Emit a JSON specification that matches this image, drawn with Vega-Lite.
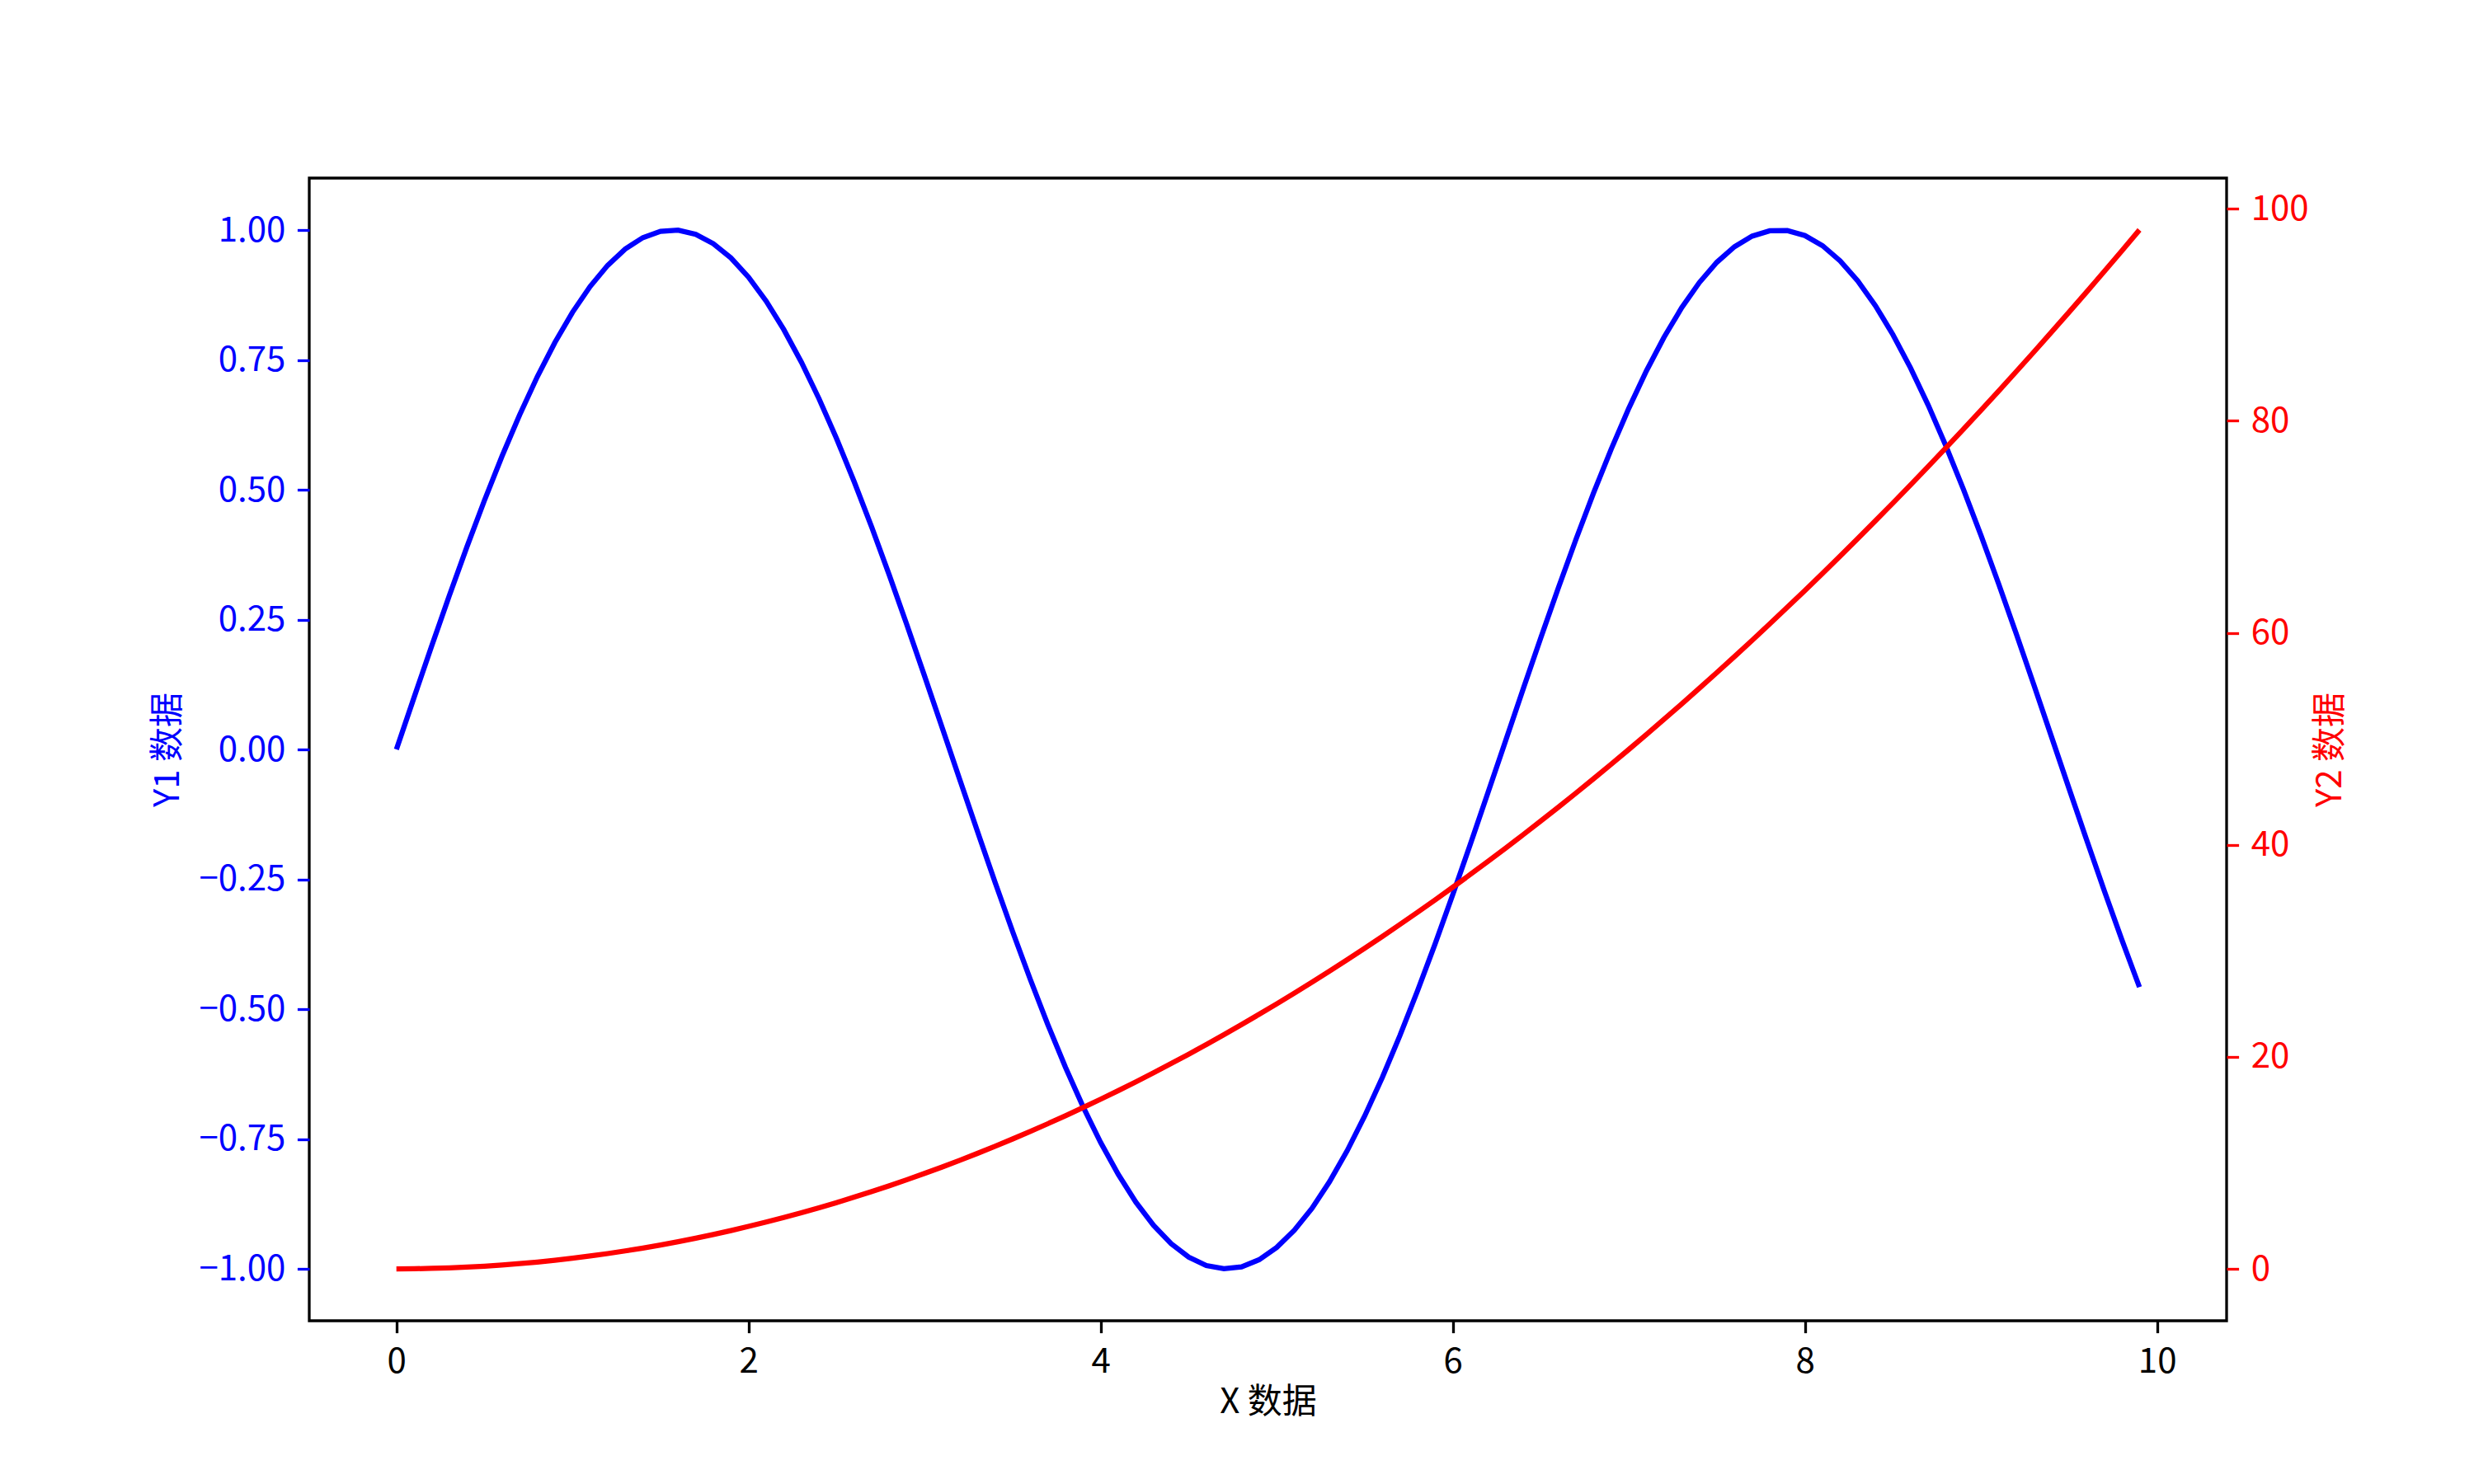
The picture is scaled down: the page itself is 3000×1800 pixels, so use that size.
{
  "$schema": "https://vega.github.io/schema/vega-lite/v6.json",
  "autosize": {"type": "none"},
  "padding": {"left": 375, "top": 216, "right": 300, "bottom": 198},
  "width": 2325,
  "height": 1386,
  "background": "white",
  "data": {"values": [
    {"x": 0.0, "y1": 0.0, "y2": 0.0},
    {"x": 0.1, "y1": 0.0998, "y2": 0.01},
    {"x": 0.2, "y1": 0.1987, "y2": 0.04},
    {"x": 0.3, "y1": 0.2955, "y2": 0.09},
    {"x": 0.4, "y1": 0.3894, "y2": 0.16},
    {"x": 0.5, "y1": 0.4794, "y2": 0.25},
    {"x": 0.6, "y1": 0.5646, "y2": 0.36},
    {"x": 0.7, "y1": 0.6442, "y2": 0.49},
    {"x": 0.8, "y1": 0.7174, "y2": 0.64},
    {"x": 0.9, "y1": 0.7833, "y2": 0.81},
    {"x": 1.0, "y1": 0.8415, "y2": 1.0},
    {"x": 1.1, "y1": 0.8912, "y2": 1.21},
    {"x": 1.2, "y1": 0.932, "y2": 1.44},
    {"x": 1.3, "y1": 0.9636, "y2": 1.69},
    {"x": 1.4, "y1": 0.9854, "y2": 1.96},
    {"x": 1.5, "y1": 0.9975, "y2": 2.25},
    {"x": 1.6, "y1": 0.9996, "y2": 2.56},
    {"x": 1.7, "y1": 0.9917, "y2": 2.89},
    {"x": 1.8, "y1": 0.9738, "y2": 3.24},
    {"x": 1.9, "y1": 0.9463, "y2": 3.61},
    {"x": 2.0, "y1": 0.9093, "y2": 4.0},
    {"x": 2.1, "y1": 0.8632, "y2": 4.41},
    {"x": 2.2, "y1": 0.8085, "y2": 4.84},
    {"x": 2.3, "y1": 0.7457, "y2": 5.29},
    {"x": 2.4, "y1": 0.6755, "y2": 5.76},
    {"x": 2.5, "y1": 0.5985, "y2": 6.25},
    {"x": 2.6, "y1": 0.5155, "y2": 6.76},
    {"x": 2.7, "y1": 0.4274, "y2": 7.29},
    {"x": 2.8, "y1": 0.335, "y2": 7.84},
    {"x": 2.9, "y1": 0.2392, "y2": 8.41},
    {"x": 3.0, "y1": 0.1411, "y2": 9.0},
    {"x": 3.1, "y1": 0.0416, "y2": 9.61},
    {"x": 3.2, "y1": -0.0584, "y2": 10.24},
    {"x": 3.3, "y1": -0.1577, "y2": 10.89},
    {"x": 3.4, "y1": -0.2555, "y2": 11.56},
    {"x": 3.5, "y1": -0.3508, "y2": 12.25},
    {"x": 3.6, "y1": -0.4425, "y2": 12.96},
    {"x": 3.7, "y1": -0.5298, "y2": 13.69},
    {"x": 3.8, "y1": -0.6119, "y2": 14.44},
    {"x": 3.9, "y1": -0.6878, "y2": 15.21},
    {"x": 4.0, "y1": -0.7568, "y2": 16.0},
    {"x": 4.1, "y1": -0.8183, "y2": 16.81},
    {"x": 4.2, "y1": -0.8716, "y2": 17.64},
    {"x": 4.3, "y1": -0.9162, "y2": 18.49},
    {"x": 4.4, "y1": -0.9516, "y2": 19.36},
    {"x": 4.5, "y1": -0.9775, "y2": 20.25},
    {"x": 4.6, "y1": -0.9937, "y2": 21.16},
    {"x": 4.7, "y1": -0.9999, "y2": 22.09},
    {"x": 4.8, "y1": -0.9962, "y2": 23.04},
    {"x": 4.9, "y1": -0.9825, "y2": 24.01},
    {"x": 5.0, "y1": -0.9589, "y2": 25.0},
    {"x": 5.1, "y1": -0.9258, "y2": 26.01},
    {"x": 5.2, "y1": -0.8835, "y2": 27.04},
    {"x": 5.3, "y1": -0.8323, "y2": 28.09},
    {"x": 5.4, "y1": -0.7728, "y2": 29.16},
    {"x": 5.5, "y1": -0.7055, "y2": 30.25},
    {"x": 5.6, "y1": -0.6313, "y2": 31.36},
    {"x": 5.7, "y1": -0.5507, "y2": 32.49},
    {"x": 5.8, "y1": -0.4646, "y2": 33.64},
    {"x": 5.9, "y1": -0.3739, "y2": 34.81},
    {"x": 6.0, "y1": -0.2794, "y2": 36.0},
    {"x": 6.1, "y1": -0.1822, "y2": 37.21},
    {"x": 6.2, "y1": -0.0831, "y2": 38.44},
    {"x": 6.3, "y1": 0.0168, "y2": 39.69},
    {"x": 6.4, "y1": 0.1165, "y2": 40.96},
    {"x": 6.5, "y1": 0.2151, "y2": 42.25},
    {"x": 6.6, "y1": 0.3115, "y2": 43.56},
    {"x": 6.7, "y1": 0.4048, "y2": 44.89},
    {"x": 6.8, "y1": 0.4941, "y2": 46.24},
    {"x": 6.9, "y1": 0.5784, "y2": 47.61},
    {"x": 7.0, "y1": 0.657, "y2": 49.0},
    {"x": 7.1, "y1": 0.729, "y2": 50.41},
    {"x": 7.2, "y1": 0.7937, "y2": 51.84},
    {"x": 7.3, "y1": 0.8504, "y2": 53.29},
    {"x": 7.4, "y1": 0.8987, "y2": 54.76},
    {"x": 7.5, "y1": 0.938, "y2": 56.25},
    {"x": 7.6, "y1": 0.9679, "y2": 57.76},
    {"x": 7.7, "y1": 0.9882, "y2": 59.29},
    {"x": 7.8, "y1": 0.9985, "y2": 60.84},
    {"x": 7.9, "y1": 0.9989, "y2": 62.41},
    {"x": 8.0, "y1": 0.9894, "y2": 64.0},
    {"x": 8.1, "y1": 0.9699, "y2": 65.61},
    {"x": 8.2, "y1": 0.9407, "y2": 67.24},
    {"x": 8.3, "y1": 0.9022, "y2": 68.89},
    {"x": 8.4, "y1": 0.8546, "y2": 70.56},
    {"x": 8.5, "y1": 0.7985, "y2": 72.25},
    {"x": 8.6, "y1": 0.7344, "y2": 73.96},
    {"x": 8.7, "y1": 0.663, "y2": 75.69},
    {"x": 8.8, "y1": 0.5849, "y2": 77.44},
    {"x": 8.9, "y1": 0.501, "y2": 79.21},
    {"x": 9.0, "y1": 0.4121, "y2": 81.0},
    {"x": 9.1, "y1": 0.3191, "y2": 82.81},
    {"x": 9.2, "y1": 0.2229, "y2": 84.64},
    {"x": 9.3, "y1": 0.1245, "y2": 86.49},
    {"x": 9.4, "y1": 0.0248, "y2": 88.36},
    {"x": 9.5, "y1": -0.0752, "y2": 90.25},
    {"x": 9.6, "y1": -0.1743, "y2": 92.16},
    {"x": 9.7, "y1": -0.2718, "y2": 94.09},
    {"x": 9.8, "y1": -0.3665, "y2": 96.04},
    {"x": 9.9, "y1": -0.4575, "y2": 98.01}
  ]},
  "encoding": {
    "x": {
      "field": "x", "type": "quantitative",
      "scale": {"domain": [-0.495, 10.395], "nice": false, "zero": false},
      "axis": {
        "title": "X 数据",
        "values": [0, 2, 4, 6, 8, 10],
        "format": "d",
        "titleY": 98,
        "titleBaseline": "middle",
        "titleColor": "black",
        "labelColor": "black",
        "tickColor": "black"
      }
    }
  },
  "layer": [
    {
      "mark": {"type": "line", "color": "#0000ff", "strokeWidth": 6.25},
      "encoding": {
        "y": {
          "field": "y1", "type": "quantitative",
          "scale": {"domain": [-1.1, 1.1], "nice": false, "zero": false},
          "axis": {
            "orient": "left",
            "title": "Y1 数据",
            "values": [-1, -0.75, -0.5, -0.25, 0, 0.25, 0.5, 0.75, 1],
            "format": ".2f",
            "titleX": -172,
            "titleY": 693,
            "titleAngle": -90,
            "titleAlign": "center",
            "titleBaseline": "middle",
            "titleColor": "#0000ff",
            "labelColor": "#0000ff",
            "tickColor": "#0000ff"
          }
        }
      }
    },
    {
      "mark": {"type": "line", "color": "#ff0000", "strokeWidth": 6.25},
      "encoding": {
        "y": {
          "field": "y2", "type": "quantitative",
          "scale": {"domain": [-4.9, 102.9], "nice": false, "zero": false},
          "axis": {
            "orient": "right",
            "title": "Y2 数据",
            "values": [0, 20, 40, 60, 80, 100],
            "format": "d",
            "titleX": 125,
            "titleY": 693,
            "titleAngle": -90,
            "titleAlign": "center",
            "titleBaseline": "middle",
            "titleColor": "#ff0000",
            "labelColor": "#ff0000",
            "tickColor": "#ff0000"
          }
        }
      }
    }
  ],
  "resolve": {"scale": {"y": "independent"}},
  "config": {
    "view": {"stroke": "black", "strokeWidth": 3.3},
    "font": "Noto Sans CJK SC",
    "axis": {
      "grid": false,
      "domain": false,
      "ticks": true,
      "tickSize": 14.6,
      "tickWidth": 3.3,
      "labelPadding": 14.6,
      "labelFont": "Noto Sans CJK SC",
      "labelFontSize": 42,
      "labelFontWeight": "normal",
      "titleFont": "Noto Sans CJK SC",
      "titleFontSize": 42,
      "titleFontWeight": "normal",
      "labelFlush": false,
      "labelOverlap": false
    }
  }
}
